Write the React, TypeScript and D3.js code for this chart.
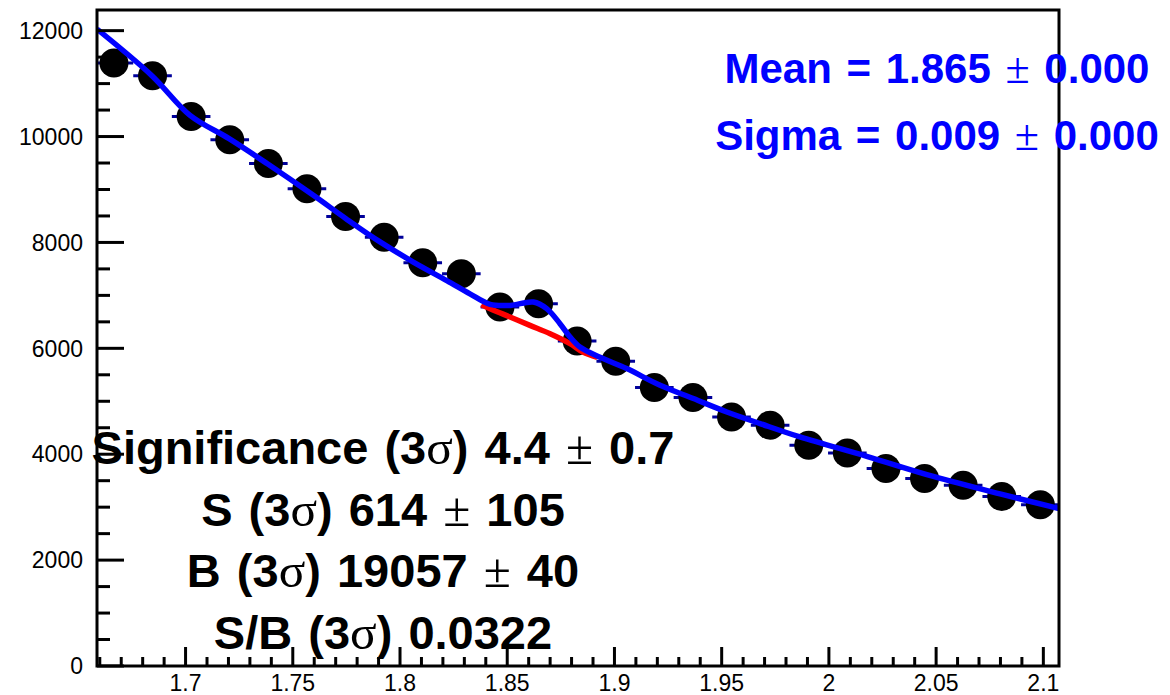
import React from "react";
import * as d3 from "d3";

// ---- data ----
const binCenters = [
  1.6666, 1.6846, 1.7026, 1.7206, 1.7386, 1.7566, 1.7746, 1.7926, 1.8106, 1.8286,
  1.8466, 1.8646, 1.8826, 1.9006, 1.9186, 1.9366, 1.9546, 1.9726, 1.9906, 2.0086,
  2.0266, 2.0446, 2.0626, 2.0806, 2.0986,
];
const counts = [
  11390, 11146, 10377, 9938, 9491, 9013, 8491, 8100, 7617, 7410,
  6780, 6844, 6138, 5755, 5259, 5070, 4704, 4547, 4170, 4025,
  3730, 3542, 3416, 3202, 3044,
];
const binHalfWidth = 0.009;

// total fit (background + gaussian)
const fitX = [
  1.6587, 1.6843, 1.7021, 1.7203, 1.738, 1.7596, 1.7751, 1.7907, 1.8062, 1.8218,
  1.8326, 1.842, 1.8513, 1.8622, 1.8684, 1.8746, 1.8793, 1.8839, 1.8933, 1.9057,
  1.9213, 1.9368, 1.9524, 1.9679, 1.9865, 2.0176, 2.0487, 2.0798, 2.1073,
];
const fitY = [
  12030, 11150, 10400, 9960, 9490, 8890, 8440, 8010, 7630, 7280,
  7030, 6830, 6811, 6874, 6749, 6466, 6213, 6025, 5830, 5617,
  5302, 5051, 4798, 4579, 4326, 3960, 3580, 3250, 2975,
];
// background only, under the peak (mean ± 3 sigma)
const bkgX = [1.838, 1.842, 1.8513, 1.8606, 1.87, 1.8793, 1.8853, 1.892];
const bkgY = [6824, 6749, 6591, 6434, 6277, 6089, 5930, 5829];

const xTickValues = [1.7, 1.75, 1.8, 1.85, 1.9, 1.95, 2.0, 2.05, 2.1];
const xTickLabels = ["1.7", "1.75", "1.8", "1.85", "1.9", "1.95", "2", "2.05", "2.1"];
const yTickValues = [0, 2000, 4000, 6000, 8000, 10000, 12000];
const yTickLabels = ["0", "2000", "4000", "6000", "8000", "10000", "12000"];

const fitLines = ["Mean = 1.865 ± 0.000", "Sigma = 0.009 ± 0.000"];
const statLines = [
  "Significance (3σ) 4.4 ± 0.7",
  "S (3σ) 614 ± 105",
  "B (3σ) 19057 ± 40",
  "S/B (3σ) 0.0322",
];

const xDomain = [1.6587, 2.1073];
const yDomain = [0, 12390];

const L = 97, R = 1059, T = 10, B = 666;

function RichText({ text, x, y, size, fill, ws }: any) {
  const parts: { t: string; kind: string }[] = [];
  for (const ch of text) {
    const kind = ch === "σ" ? "serif" : ch === "±" ? "pm" : "bold";
    const last = parts[parts.length - 1];
    if (last && last.kind === kind) last.t += ch;
    else parts.push({ t: ch, kind });
  }
  return (
    <text
      x={x}
      y={y}
      textAnchor="middle"
      fill={fill}
      fontSize={size}
      style={{ whiteSpace: "pre", wordSpacing: ws }}
    >
      {parts.map((p, i) => (
        <tspan
          key={i}
          fontFamily={p.kind === "bold" ? "'Liberation Sans', Arial, sans-serif" : "'Liberation Serif', 'Times New Roman', serif"}
          fontWeight={p.kind === "bold" ? 700 : 400}
          fontSize={p.kind === "bold" ? size : size * 1.05}
        >
          {p.t}
        </tspan>
      ))}
    </text>
  );
}

export default function App() {
  const x = d3.scaleLinear().domain(xDomain).range([L, R]);
  const y = d3.scaleLinear().domain(yDomain).range([B, T]);

  const fitPts: [number, number][] = fitX.map((v, i) => [v, fitY[i]]);
  const bkgPts: [number, number][] = bkgX.map((v, i) => [v, bkgY[i]]);
  const line = d3
    .line<[number, number]>()
    .x((d) => x(d[0]))
    .y((d) => y(d[1]))
    .curve(d3.curveCatmullRom.alpha(0.5));

  const yMinor = d3.range(0, 12001, 500).filter((v) => v % 2000 !== 0);
  const xMinor = d3.range(166, 211).map((v) => v / 100).filter((v) => Math.round(v * 100) % 5 !== 0);

  const font = "'Liberation Sans', Arial, Helvetica, sans-serif";

  return (
    <svg
      width={1170}
      height={695}
      style={{ position: "absolute", left: 0, top: 0, background: "#fff" }}
    >
      <defs>
        <clipPath id="frame">
          <rect x={L} y={T} width={R - L} height={B - T} />
        </clipPath>
      </defs>
      <rect x={0} y={0} width={1170} height={695} fill="#fff" />

      <g clipPath="url(#frame)">
        {/* error bars */}
        {binCenters.map((c, i) => (
          <g key={"e" + i} stroke="#00009a" strokeWidth={3}>
            <line x1={x(c - binHalfWidth)} x2={x(c + binHalfWidth)} y1={y(counts[i])} y2={y(counts[i])} />
            <line x1={x(c)} x2={x(c)} y1={y(counts[i] - Math.sqrt(counts[i]))} y2={y(counts[i] + Math.sqrt(counts[i]))} />
          </g>
        ))}
        {/* markers */}
        {binCenters.map((c, i) => (
          <circle key={"m" + i} cx={x(c)} cy={y(counts[i])} r={14.5} fill="#000" />
        ))}
        <path d={line(bkgPts) || ""} fill="none" stroke="#ff0000" strokeWidth={5.5} />
        <path d={line(fitPts) || ""} fill="none" stroke="#0000ff" strokeWidth={5.5} />
      </g>

      {/* axis ticks */}
      <g stroke="#000" strokeWidth={3}>
        {yTickValues.map((v) => (
          <line key={"ym" + v} x1={L} x2={L + 27} y1={y(v)} y2={y(v)} />
        ))}
        {yMinor.map((v) => (
          <line key={"yn" + v} x1={L} x2={L + 13} y1={y(v)} y2={y(v)} />
        ))}
        {xTickValues.map((v) => (
          <line key={"xm" + v} x1={x(v)} x2={x(v)} y1={B} y2={B - 19} />
        ))}
        {xMinor.map((v) => (
          <line key={"xn" + v} x1={x(v)} x2={x(v)} y1={B} y2={B - 9} />
        ))}
      </g>

      <rect x={L} y={T} width={R - L} height={B - T} fill="none" stroke="#000" strokeWidth={3} />

      {/* tick labels */}
      <g fontFamily={font} fontSize={23} fill="#000">
        {yTickValues.map((v, i) => (
          <text key={"yl" + v} x={83} y={y(v)} dy="0.36em" textAnchor="end">
            {yTickLabels[i]}
          </text>
        ))}
        {xTickValues.map((v, i) => (
          <text key={"xl" + v} x={x(v)} y={691} textAnchor="middle">
            {xTickLabels[i]}
          </text>
        ))}
      </g>

      {/* fit results */}
      {fitLines.map((t, i) => (
        <RichText key={"f" + i} text={t} x={937} y={83 + i * 67} size={42} fill="#0000ff" ws="3px" />
      ))}
      {statLines.map((t, i) => (
        <RichText key={"s" + i} text={t} x={383} y={464 + i * 61.5} size={47} fill="#000" ws="3px" />
      ))}
    </svg>
  );
}
